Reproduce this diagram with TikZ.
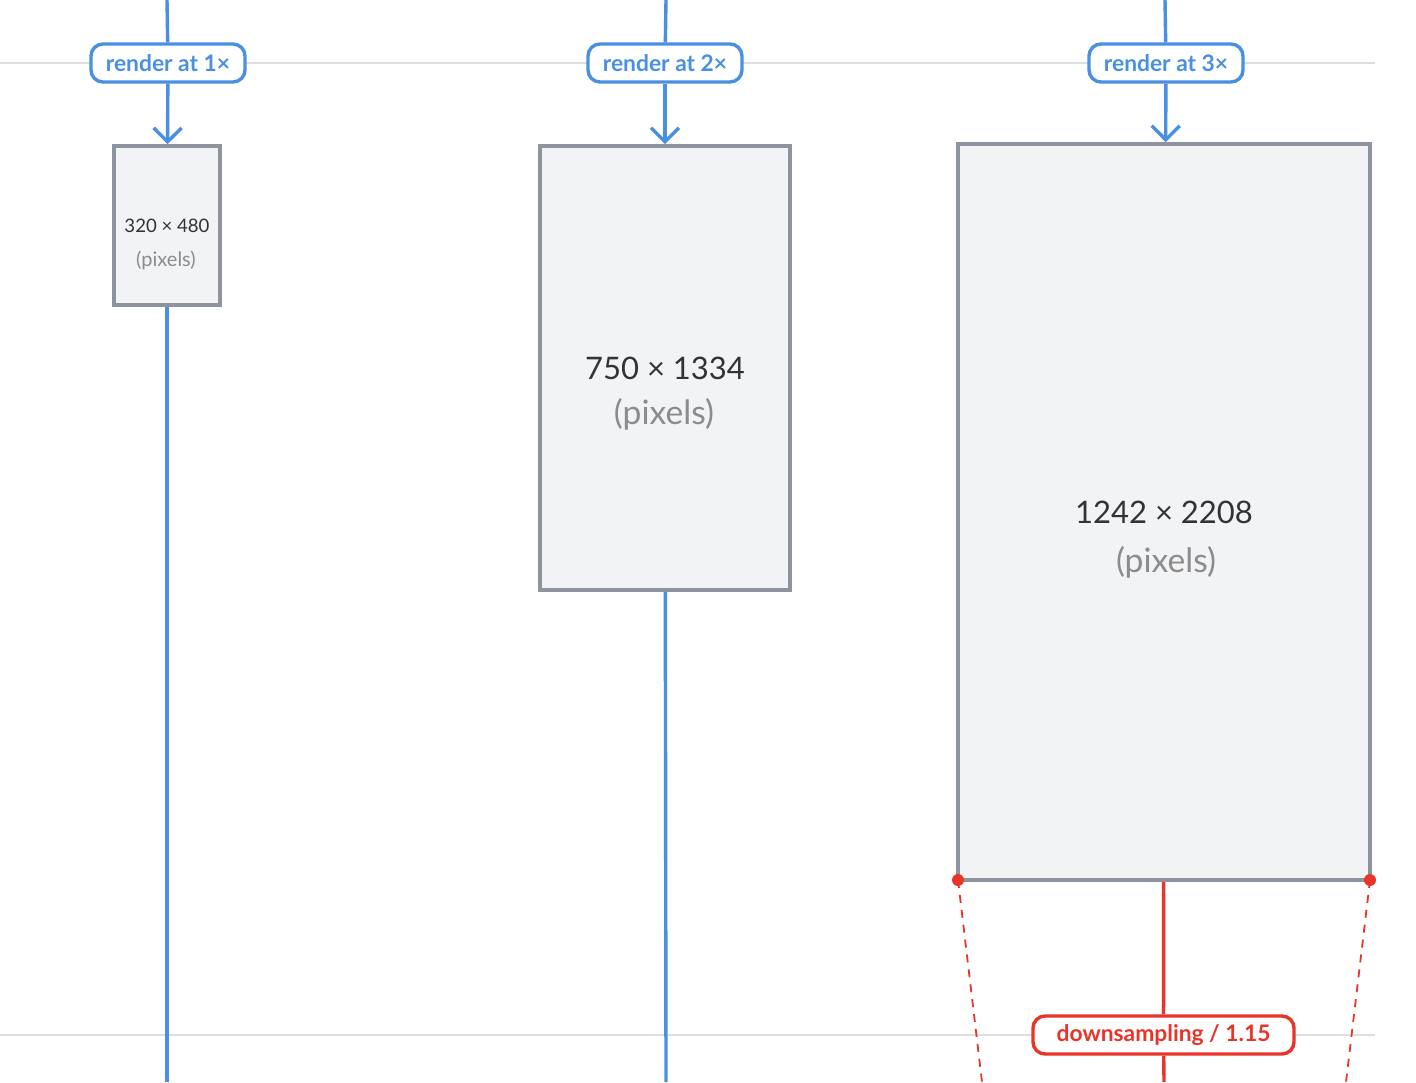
\documentclass[tikz,border=0pt]{standalone}
\usepackage{fontspec}
\setmainfont{Lato}
\usetikzlibrary{arrows.meta}
\definecolor{renderblue}{RGB}{74,144,226}
\definecolor{downred}{RGB}{232,53,42}
\definecolor{framegray}{RGB}{142,148,158}
\definecolor{canvasfill}{RGB}{242,243,245}
\definecolor{guidegray}{RGB}{222,222,222}
\definecolor{sizetext}{RGB}{51,51,51}
\definecolor{pixtext}{RGB}{140,140,140}
\tikzset{
  guide/.style={draw=guidegray,line width=0.75pt},
  flow/.style={draw=renderblue,line width=1.7pt},
  downflow/.style={draw=downred,line width=1.7pt},
  spread/.style={draw=downred,line width=0.9pt,dash pattern=on 4pt off 3.5pt},
  scalelabel/.style={draw=renderblue,fill=white,line width=1.7pt,rounded corners=6pt,
    minimum width=77pt,minimum height=19pt,inner sep=0pt,text=renderblue,
    font=\fontsize{11.4}{13}\selectfont\bfseries},
  downlabel/.style={draw=downred,fill=white,line width=1.7pt,rounded corners=6pt,
    minimum width=130.5pt,minimum height=19pt,inner sep=0pt,text=downred,
    font=\fontsize{11.4}{13}\selectfont\bfseries},
  screen/.style={draw=framegray,fill=canvasfill,line width=1.8pt,inner sep=0pt},
  sizelabel/.style={text=sizetext,inner sep=0pt},
  pixlabel/.style={text=pixtext,inner sep=0pt},
}
\begin{document}
\begin{tikzpicture}[x=0.5pt,y=0.5pt,yscale=-1]
\useasboundingbox[fill=white] (0,0) rectangle (1416,1082);
% guides
\path[guide] (0,63) -- (1375,63);
\path[guide] (0,1035) -- (1375,1035);
% 1x
\coordinate (top1) at (167,0);
\coordinate (bottom1) at (167,1082);
\node[scalelabel] (render1) at (168,63) {render at 1×};
\node[screen,minimum width=53pt,minimum height=79.5pt] (screen1) at (167,225.5) {};
\node[sizelabel,font=\fontsize{9.3}{10}\selectfont] (size1) at (167,226) {320 × 480};
\node[pixlabel,font=\fontsize{10}{10}\selectfont] (pix1) at (166,260) {(pixels)};
\path[flow] (top1) -- (render1);
\path[flow,-{Straight Barb[length=7pt,width=14pt]}] (render1) -- (screen1);
\path[flow] (screen1) -- (bottom1);
% 2x
\coordinate (top2) at (666,0);
\coordinate (bottom2) at (666,1082);
\node[scalelabel] (render2) at (665,63) {render at 2×};
\node[screen,minimum width=125pt,minimum height=222pt] (screen2) at (665,368) {};
\node[sizelabel,font=\fontsize{15.5}{18}\selectfont] (size2) at (665,368) {750 × 1334};
\node[pixlabel,font=\fontsize{16.8}{18}\selectfont] (pix2) at (664,414) {(pixels)};
\path[flow] (top2) -- (render2);
\path[flow,-{Straight Barb[length=7pt,width=14pt]}] (render2) -- (screen2);
\path[flow] (screen2) -- (bottom2);
% 3x
\coordinate (top3) at (1165,0);
\coordinate (bottom3) at (1164,1082);
\node[scalelabel] (render3) at (1166,63) {render at 3×};
\node[screen,minimum width=206pt,minimum height=368pt] (screen3) at (1164,512) {};
\node[sizelabel,font=\fontsize{15.5}{18}\selectfont] (size3) at (1164,512) {1242 × 2208};
\node[pixlabel,font=\fontsize{16.8}{18}\selectfont] (pix3) at (1166,562) {(pixels)};
\path[flow] (top3) -- (render3);
\path[flow,-{Straight Barb[length=7pt,width=14pt]}] (render3) -- (screen3);
% downsampling
\coordinate (corner1) at (958,880);
\coordinate (corner2) at (1370,880);
\coordinate (spreadend1) at (982,1082);
\coordinate (spreadend2) at (1346,1082);
\node[downlabel] (down) at (1163.5,1035) {downsampling / 1.15};
\path[downflow] (screen3) -- (down);
\path[downflow] (down) -- (bottom3);
\path[spread] (corner1) -- (spreadend1);
\path[spread] (corner2) -- (spreadend2);
\fill[downred] (corner1) circle (6);
\fill[downred] (corner2) circle (6);
\end{tikzpicture}
\end{document}
